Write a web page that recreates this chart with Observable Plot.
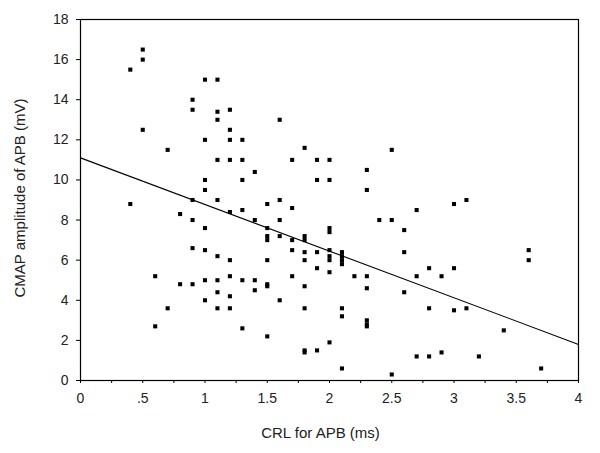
<!DOCTYPE html>
<html>
<head>
<meta charset="utf-8">
<script src="https://cdn.jsdelivr.net/npm/d3@7"></script>
<script src="https://cdn.jsdelivr.net/npm/@observablehq/plot@0.6"></script>
<style>
  html, body { margin: 0; padding: 0; background: #fff; }
</style>
</head>
<body>
<div id="chart"></div>
<script>
// CRL for APB (ms)
const crl = [
  0.4, 0.4,
  0.5, 0.5, 0.5,
  0.6, 0.6,
  0.7, 0.7,
  0.8, 0.8,
  0.9, 0.9, 0.9, 0.9, 0.9, 0.9,
  1.0, 1.0, 1.0, 1.0, 1.0, 1.0, 1.0, 1.0,
  1.1, 1.1, 1.1, 1.1, 1.1, 1.1, 1.1, 1.1, 1.1,
  1.2, 1.2, 1.2, 1.2, 1.2, 1.2, 1.2, 1.2, 1.2,
  1.3, 1.3, 1.3, 1.3, 1.3, 1.3,
  1.4, 1.4, 1.4, 1.4,
  1.5, 1.5, 1.5, 1.5, 1.5, 1.5, 1.5, 1.5,
  1.6, 1.6, 1.6, 1.6, 1.6,
  1.7, 1.7, 1.7, 1.7, 1.7,
  1.8, 1.8, 1.8, 1.8, 1.8, 1.8, 1.8, 1.8, 1.8,
  1.9, 1.9, 1.9, 1.9, 1.9,
  2.0, 2.0, 2.0, 2.0, 2.0, 2.0, 2.0, 2.0, 2.0,
  2.1, 2.1, 2.1, 2.1, 2.1, 2.1, 2.1,
  2.2,
  2.3, 2.3, 2.3, 2.3, 2.3, 2.3, 2.3,
  2.4,
  2.5, 2.5, 2.5,
  2.6, 2.6, 2.6,
  2.7, 2.7, 2.7,
  2.8, 2.8, 2.8,
  2.9, 2.9,
  3.0, 3.0, 3.0,
  3.1, 3.1,
  3.2,
  3.4,
  3.6, 3.6,
  3.7
];
// CMAP amplitude of APB (mV)
const cmap = [
  15.5, 8.8,
  16.5, 16.0, 12.5,
  5.2, 2.7,
  11.5, 3.6,
  8.3, 4.8,
  14.0, 13.5, 9.0, 8.0, 6.6, 4.8,
  15.0, 12.0, 10.0, 9.5, 7.6, 6.5, 5.0, 4.0,
  15.0, 13.4, 13.0, 11.0, 9.0, 6.2, 5.0, 4.4, 3.6,
  13.5, 12.5, 12.0, 11.0, 8.4, 6.0, 5.2, 4.2, 3.6,
  12.0, 11.0, 10.0, 8.5, 5.0, 2.6,
  10.4, 8.0, 5.0, 4.5,
  8.8, 7.6, 7.2, 7.0, 6.0, 4.8, 4.7, 2.2,
  13.0, 9.0, 8.0, 7.2, 4.0,
  11.0, 8.6, 7.0, 6.5, 5.2,
  11.6, 7.2, 7.0, 6.4, 6.0, 4.7, 3.6, 1.5, 1.4,
  11.0, 10.0, 6.4, 5.6, 1.5,
  11.0, 10.0, 7.6, 7.4, 6.5, 6.2, 6.0, 5.4, 1.9,
  6.4, 6.2, 6.0, 5.8, 3.6, 3.2, 0.6,
  5.2,
  10.5, 9.5, 5.2, 4.6, 3.0, 2.8, 2.7,
  8.0,
  11.5, 8.0, 0.3,
  7.5, 6.4, 4.4,
  8.5, 5.2, 1.2,
  5.6, 3.6, 1.2,
  5.2, 1.4,
  8.8, 5.6, 3.5,
  9.0, 3.6,
  1.2,
  2.5,
  6.5, 6.0,
  0.6
];
// regression line end points
const fitX = [0, 4];
const fitY = [11.1, 1.8];

const xTicks = [0, 0.25, 0.5, 0.75, 1, 1.25, 1.5, 1.75, 2, 2.25, 2.5, 2.75, 3, 3.25, 3.5, 3.75, 4];
const xTickValues = [0, 0.5, 1, 1.5, 2, 2.5, 3, 3.5, 4];
const xTickLabels = ["0", ".5", "1", "1.5", "2", "2.5", "3", "3.5", "4"];
const yTicks = [0, 2, 4, 6, 8, 10, 12, 14, 16, 18];
const xLabel = "CRL for APB (ms)";
const yLabel = "CMAP amplitude of APB (mV)";

const points = crl.map((x, i) => ({x, y: cmap[i]}));
const fit = fitX.map((x, i) => ({x, y: fitY[i]}));
const labelMap = new Map(xTickValues.map((v, i) => [v, xTickLabels[i]]));

const chart = Plot.plot({
  width: 600,
  height: 453,
  marginLeft: 80,
  marginRight: 22,
  marginTop: 19,
  marginBottom: 73,
  x: {domain: [0, 4]},
  y: {domain: [0, 18]},
  style: {fontFamily: "'Liberation Sans', Arial, sans-serif", fontSize: "14px", color: "#222", background: "#fff"},
  marks: [
    Plot.frame({stroke: "#000", strokeWidth: 1.2}),
    Plot.axisX({ticks: xTicks, tickSize: 3, tickPadding: 10, tickFormat: d => labelMap.get(d) ?? "", label: null, stroke: "#000"}),
    Plot.axisY({ticks: yTicks, tickSize: 4, tickPadding: 8, label: null, stroke: "#000"}),
    Plot.line(fit, {x: "x", y: "y", stroke: "#000", strokeWidth: 1.1}),
    Plot.dot(points, {x: "x", y: "y", symbol: "square", r: 2.3, fill: "#000", stroke: "none"}),
    Plot.text([xLabel], {frameAnchor: "bottom", dx: -9, dy: 57, fontSize: 15, fill: "#222"}),
    Plot.text([yLabel], {frameAnchor: "left", textAnchor: "middle", rotate: -90, dx: -60, dy: -2, fontSize: 15, fill: "#222"})
  ]
});
document.getElementById("chart").appendChild(chart);
</script>
</body>
</html>
